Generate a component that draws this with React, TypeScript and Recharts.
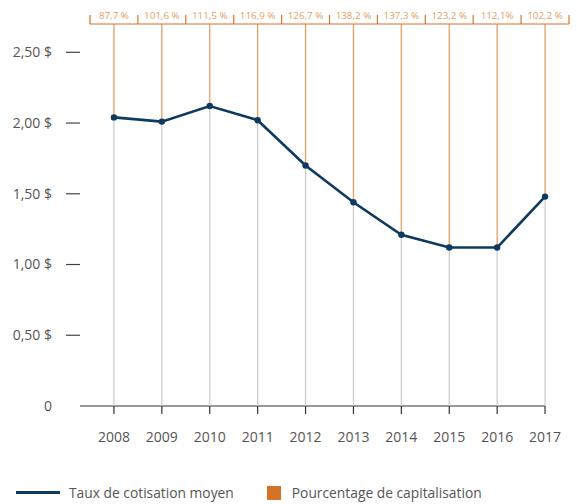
// Taux de cotisation moyen vs pourcentage de capitalisation

import {
  ComposedChart, Line, XAxis, YAxis, ReferenceLine,
} from 'recharts';

const years = [2008, 2009, 2010, 2011, 2012, 2013, 2014, 2015, 2016, 2017];
const tauxCotisation = [2.04, 2.01, 2.12, 2.02, 1.7, 1.44, 1.21, 1.12, 1.12, 1.48];
const capitalisation = [
  '87,7 %', '101,6 %', '111,5 %', '116,9 %', '126,7 %',
  '138,2 %', '137,3 %', '123,2 %', '112,1%', '102,2 %',
];
const yTicks = [0, 0.5, 1, 1.5, 2, 2.5];
const yTickLabels = ['0', '0,50 $', '1,00 $', '1,50 $', '2,00 $', '2,50 $'];
const yMax = 2.7;

const data = years.map((year, i) => ({
  year,
  taux: tauxCotisation[i],
  capi: capitalisation[i],
}));

// bornes des cases du haut (entre les années)
const topTicks = years.flatMap((y) => [y - 0.5, y]).concat(years[years.length - 1] + 0.5);

const FONT = '"Open Sans", "Noto Sans", sans-serif';
const NAVY = '#0f3a5f';
const ORANGE = '#d5722a';
const ORANGE_LIGHT = '#e5a066';
const GRAY_TEXT = '#555';

const YTick = ({ x, y, payload }: any) => {
  const i = yTicks.indexOf(payload.value);
  return (
    <g>
      {payload.value !== 0 && (
        <line x1={x - 24} x2={x - 10} y1={y} y2={y} stroke="#444" strokeWidth={1.2} />
      )}
      <text x={x - 38} y={y} dy="0.35em" textAnchor="end" fontSize={14} fill={GRAY_TEXT} fontFamily={FONT}>
        {yTickLabels[i]}
      </text>
    </g>
  );
};

const TopTick = ({ x, y, payload }: any) => {
  const v = payload.value;
  if (!Number.isInteger(v)) {
    return <line x1={x} x2={x} y1={y - 9} y2={y} stroke={ORANGE} strokeWidth={1.2} />;
  }
  const label = capitalisation[years.indexOf(v)];
  return (
    <text x={x} y={y - 5} textAnchor="middle" fontSize={9.8} fill={ORANGE_LIGHT} fontFamily={FONT}>
      {label}
    </text>
  );
};

export default function App() {
  return (
    <div style={{ position: 'absolute', left: 0, top: 0, width: 577, height: 504, background: '#fff' }}>
      <ComposedChart
        width={577}
        height={466}
        data={data}
        margin={{ top: 0, right: 8, bottom: 0, left: 0 }}
        style={{ fontFamily: FONT }}
      >
        <XAxis
          xAxisId="top"
          orientation="top"
          dataKey="year"
          type="number"
          domain={[2007.5, 2017.5]}
          ticks={topTicks}
          height={24}
          axisLine={{ stroke: ORANGE, strokeWidth: 1.2 }}
          tickLine={false}
          tickSize={0}
          tickMargin={0}
          tick={<TopTick />}
          interval={0}
        />
        <XAxis
          xAxisId="bottom"
          dataKey="year"
          type="number"
          domain={[2007.5, 2017.5]}
          ticks={years}
          height={60}
          axisLine={false}
          tickLine={{ stroke: '#333', strokeWidth: 1.2 }}
          tickSize={8}
          tickMargin={18}
          tick={{ fontSize: 14, fill: GRAY_TEXT, fontFamily: FONT }}
          interval={0}
        />
        <YAxis
          domain={[0, yMax]}
          ticks={yTicks}
          width={90}
          axisLine={false}
          tickLine={false}
          tickSize={0}
          tickMargin={0}
          tick={<YTick />}
          interval={0}
        />
        <ReferenceLine
          xAxisId="bottom"
          segment={[{ x: 2007.29, y: 0 }, { x: years[years.length - 1], y: 0 }]}
          stroke="#333"
          strokeWidth={1.2}
          ifOverflow="visible"
        />
        {data.map((d) => (
          <ReferenceLine
            key={`g${d.year}`}
            xAxisId="bottom"
            segment={[{ x: d.year, y: 0 }, { x: d.year, y: d.taux }]}
            stroke="#cacaca"
            strokeWidth={1.2}
          />
        ))}
        {data.map((d) => (
          <ReferenceLine
            key={`o${d.year}`}
            xAxisId="bottom"
            segment={[{ x: d.year, y: d.taux }, { x: d.year, y: yMax }]}
            stroke={ORANGE_LIGHT}
            strokeWidth={1.3}
          />
        ))}
        <Line
          xAxisId="bottom"
          dataKey="taux"
          stroke={NAVY}
          strokeWidth={2.6}
          dot={{ r: 3.2, fill: NAVY, stroke: NAVY, strokeWidth: 0 }}
          activeDot={false}
          isAnimationActive={false}
        />
      </ComposedChart>

      <div
        style={{
          position: 'absolute', top: 483, left: 16, display: 'flex', alignItems: 'center',
          fontFamily: FONT, fontSize: 13.8, color: GRAY_TEXT,
        }}
      >
        <span style={{ display: 'inline-block', width: 44, height: 3, background: NAVY, marginRight: 9 }} />
        <span>Taux de cotisation moyen</span>
        <span style={{ display: 'inline-block', width: 14, height: 14, background: ORANGE, marginLeft: 33, marginRight: 11 }} />
        <span>Pourcentage de capitalisation</span>
      </div>
    </div>
  );
}
